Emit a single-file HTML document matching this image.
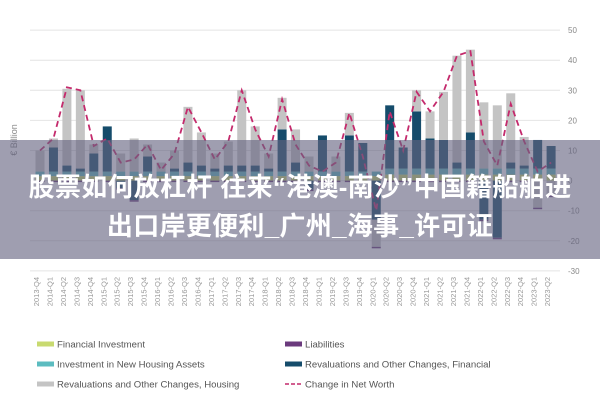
<!DOCTYPE html>
<html><head><meta charset="utf-8"><style>
html,body{margin:0;padding:0;background:#fff;width:600px;height:400px;overflow:hidden}
svg{display:block;font-family:"Liberation Sans",sans-serif}
.ov{position:absolute;left:0;top:140px;width:600px;height:119px;background:rgba(100,98,128,0.62)}
.t{position:absolute;left:0;width:600px;text-align:center;color:#fff;font-weight:bold;font-size:26px;letter-spacing:0.3px;font-family:"Liberation Sans","Noto Sans CJK SC",sans-serif;white-space:nowrap}
</style></head><body>
<div style="position:relative;width:600px;height:400px">
<svg id="chart" width="600" height="400"></svg>
<div class="ov"></div>
<div class="t" style="top:167px">股票如何放杠杆 往来“港澳-南沙”中国籍船舶进</div>
<div class="t" style="top:206px">出口岸更便利_广州_海事_许可证</div>
</div>
<script>
const quarters=["2013-Q4","2014-Q1","2014-Q2","2014-Q3","2014-Q4","2015-Q1","2015-Q2","2015-Q3","2015-Q4","2016-Q1","2016-Q2","2016-Q3","2016-Q4","2017-Q1","2017-Q2","2017-Q3","2017-Q4","2018-Q1","2018-Q2","2018-Q3","2018-Q4","2019-Q1","2019-Q2","2019-Q3","2019-Q4","2020-Q1","2020-Q2","2020-Q3","2020-Q4","2021-Q1","2021-Q2","2021-Q3","2021-Q4","2022-Q1","2022-Q2","2022-Q3","2022-Q4","2023-Q1","2023-Q2"];
const finInv=[1.5,1.5,1.5,1.5,1.5,1.5,1.5,1.5,1.5,1.5,1.5,1.5,1.5,1.5,1.5,1.5,1.5,1.5,1.5,1.5,1.5,1.5,1.5,1.5,1.5,1.5,2,2,2,2,2,2,2,2,2,2,2,2,2];
const housInv=[1.5,1.5,1.5,1.5,1.5,1.5,1.5,1.5,1.5,1.5,1.5,1.5,1.5,1.5,1.5,1.5,1.5,1.5,1.5,1.5,1.5,1.5,1.5,1.5,1.5,1.5,2,2,2,2,2,2,2,2,2,2,2,2,2];
const finReval=[0,8,2,1,6,15,-2.5,-6.5,5,0,1,3,2,1,2,2,2,1,14,3,-3,12,0,12,9.5,-13,21,7,19,10,9.5,2,12,-13,-19,2,1,9.5,7.5];
const housReval=[7,3,25.5,26,3,0,6,11,4,3,6,18.5,11,5,8,25,13,5,10.5,11,5,0,5,7.5,0,-9,0,0,7,9,16,35.5,27.5,22,21,23,9.5,-9,-5];
const liab=[-0.5,-0.5,-0.5,-0.5,-0.5,-0.5,-0.5,-0.5,-0.5,-0.5,-0.5,-0.5,-0.5,-0.5,-0.5,-0.5,-0.5,-0.5,-0.5,-0.5,-0.5,-0.5,-0.5,-0.5,-0.5,-0.5,-0.5,-0.5,-0.5,-0.5,-0.5,-0.5,-0.5,-0.5,-0.5,-0.5,-0.5,-0.5,-0.5];
const netWorth=[10,14,31,30,11.5,14,6,7,12,3.5,9,24.5,16,7,13,30,17,8,27,12,5,3,6,22.5,8,-10,23,10,29.5,23,29.5,41.5,43,13,5,25.5,13,3,6];
const yTicks=[50,40,30,20,10,0,-10,-20,-30];
const NS="http://www.w3.org/2000/svg";
const svg=document.getElementById('chart');
const y=v=>180.6-v*3.01;
const x=i=>40+i*13.45;
function mk(t,a,p){const e=document.createElementNS(NS,t);for(const k in a)e.setAttribute(k,a[k]);(p||svg).appendChild(e);return e;}
yTicks.forEach(v=>{
 const g=mk('line',{x1:30,x2:560,y1:y(v),y2:y(v),stroke:'#e4e4e4','stroke-width':1});
 
 
 const t=mk('text',{x:568,y:y(v)+3,'font-size':8,fill:'#888'});
 t.textContent=v;
 
 
});
const yt=mk('text',{transform:'translate(17,140) rotate(-90)','font-size':9,fill:'#888','text-anchor':'middle'});
yt.textContent='€ Billion';


const series=[[finInv,'#c8da70','bar-financial-investment'],[housInv,'#5cbcc0','bar-housing-investment'],[finReval,'#154c6b','bar-revaluation-financial'],[housReval,'#c4c4c4','bar-revaluation-housing'],[liab,'#6b3a7d','bar-liabilities']];
quarters.forEach((q,i)=>{
 let pos=0,neg=0;
 series.forEach(([arr,col,name])=>{
  const v=arr[i];if(!v)return;
  let y1,y2;
  if(v>0){y1=y(pos+v);y2=y(pos);pos+=v;}else{y1=y(neg);y2=y(neg+v);neg+=v;}
  const r=mk('rect',{x:x(i)-4.5,y:y1,width:9,height:Math.max(0,y2-y1),fill:col});
  
  
 });
 const t=mk('text',{transform:`translate(${x(i)-1},277) rotate(-90)`,'font-size':7.5,fill:'#999','text-anchor':'end'});
 t.textContent=q;
 
 
});
const pl=mk('polyline',{points:netWorth.map((v,i)=>x(i)+','+y(v)).join(' '),fill:'none',stroke:'#c42a6c','stroke-width':1.8,'stroke-dasharray':'6,4'});


const legend=[['Financial Investment','#c8da70',37,344,0],['Investment in New Housing Assets','#5cbcc0',37,364,0],['Revaluations and Other Changes, Housing','#c4c4c4',37,384,0],['Liabilities','#6b3a7d',285,344,0],['Revaluations and Other Changes, Financial','#154c6b',285,364,0],['Change in Net Worth','#c42a6c',285,384,1]];
legend.forEach(([lab,col,lx,ly,dash])=>{
 const g=mk('g',{});
 
 
 if(dash){mk('line',{x1:lx,x2:lx+17,y1:ly,y2:ly,stroke:col,'stroke-width':1.5,'stroke-dasharray':'4,2'},g);}
 else mk('rect',{x:lx,y:ly-2.5,width:17,height:5,fill:col},g);
 const t=mk('text',{x:lx+20,y:ly+3.5,'font-size':9.6,fill:'#555'},g);
 t.textContent=lab;
});
</script>
</body></html>
